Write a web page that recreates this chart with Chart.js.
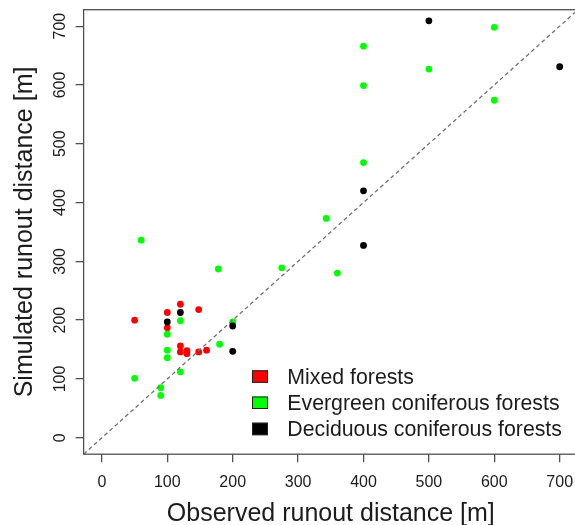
<!DOCTYPE html>
<html>
<head>
<meta charset="utf-8">
<script src="https://cdn.jsdelivr.net/npm/chart.js@4"></script>
<style>
  html, body { margin: 0; padding: 0; background: #fff; overflow: hidden; }
  #wrap { width: 582px; height: 525px; }
</style>
</head>
<body>
<div id="wrap"><canvas id="c" width="582" height="525"></canvas></div>
<script>
// ---- data ----
const seriesNames = ['Mixed forests', 'Evergreen coniferous forests', 'Deciduous coniferous forests'];
const seriesColors = ['#ff0000', '#00ff00', '#000000'];

const mixedObs = [50, 100, 100, 120, 148, 120, 120, 130, 130, 148, 160];
const mixedSim = [200, 213, 187, 227, 218, 156, 146, 148, 143, 146, 149];

const evergreenObs = [400, 400, 500, 600, 600, 400, 343, 360, 60, 178, 275, 120, 100, 100, 100, 50, 120, 180, 200, 90, 90];
const evergreenSim = [666, 599, 627, 698, 574, 468, 373, 280, 336, 287, 289, 199, 176, 149, 136, 101, 112, 159, 197, 85, 72];

const deciduousObs = [120, 100, 200, 200, 500, 700, 400, 400];
const deciduousSim = [213, 197, 190, 147, 709, 631, 420, 327];

const tickValues = [0, 100, 200, 300, 400, 500, 600, 700];
const axisMin = -28, axisMax = 728;
const xTitle = 'Observed runout distance [m]';
const yTitle = 'Simulated runout distance [m]';

const pts = (xs, ys) => xs.map((x, i) => ({ x: x, y: ys[i] }));
const FONT = "'Liberation Sans', Arial, Helvetica, sans-serif";
const TEXT = '#1c1c1c';

const overlay = {
  id: 'overlay',
  afterDraw(chart) {
    const ctx = chart.ctx, a = chart.chartArea;
    const xs = chart.scales.x, ys = chart.scales.y;
    ctx.save();
    // box
    ctx.strokeStyle = '#505050';
    ctx.lineWidth = 1.3;
    ctx.strokeRect(a.left, a.top, a.right - a.left, a.bottom - a.top);
    // x tick labels
    ctx.fillStyle = TEXT;
    ctx.font = '16px ' + FONT;
    ctx.textAlign = 'center';
    ctx.textBaseline = 'alphabetic';
    xs.ticks.forEach(t => {
      ctx.fillText(String(t.value), xs.getPixelForValue(t.value), a.bottom + 32.5);
    });
    // y tick labels (rotated, as in R)
    ys.ticks.forEach(t => {
      ctx.save();
      ctx.translate(a.left - 18.6, ys.getPixelForValue(t.value));
      ctx.rotate(-Math.PI / 2);
      ctx.fillText(String(t.value), 0, 0);
      ctx.restore();
    });
    // axis titles
    ctx.font = '25px ' + FONT;
    ctx.fillText(xTitle, (a.left + a.right) / 2, a.bottom + 66.8);
    ctx.save();
    ctx.translate(a.left - 52, (a.top + a.bottom) / 2);
    ctx.rotate(-Math.PI / 2);
    ctx.fillText(yTitle, 0, 0);
    ctx.restore();
    // legend
    ctx.font = '21.3px ' + FONT;
    ctx.textAlign = 'left';
    const lx = 252, ly = 370.3, rowH = 26.2, bw = 16, bh = 12.5;
    seriesNames.forEach((name, i) => {
      const y = ly + i * rowH;
      ctx.fillStyle = seriesColors[i];
      ctx.fillRect(lx, y, bw, bh);
      ctx.strokeStyle = '#222';
      ctx.lineWidth = 1;
      ctx.strokeRect(lx + 0.5, y + 0.5, bw - 1, bh - 1);
      ctx.fillStyle = TEXT;
      ctx.fillText(name, lx + 35.3, y + 13.5);
    });
    ctx.restore();
  }
};

const scaleCommon = {
  type: 'linear',
  min: axisMin,
  max: axisMax,
  afterBuildTicks: s => { s.ticks = tickValues.map(v => ({ value: v })); },
  ticks: { display: false },
  grid: { display: true, drawOnChartArea: false, drawTicks: true, tickLength: 8, color: '#505050', lineWidth: 1.3 },
  border: { display: false },
  title: { display: false }
};

new Chart(document.getElementById('c'), {
  type: 'scatter',
  data: {
    datasets: [
      {
        type: 'line',
        label: '1:1',
        data: [{ x: axisMin, y: axisMin }, { x: axisMax, y: axisMax }],
        borderColor: '#707070',
        borderWidth: 1.3,
        borderDash: [4, 3],
        pointRadius: 0,
        fill: false
      },
      { label: seriesNames[2], data: pts(deciduousObs, deciduousSim), backgroundColor: seriesColors[2], borderWidth: 0, pointRadius: 3.4 },
      { label: seriesNames[1], data: pts(evergreenObs, evergreenSim), backgroundColor: seriesColors[1], borderWidth: 0, pointRadius: 3.4 },
      { label: seriesNames[0], data: pts(mixedObs, mixedSim), backgroundColor: seriesColors[0], borderWidth: 0, pointRadius: 3.4 }
    ]
  },
  options: {
    responsive: false,
    animation: false,
    devicePixelRatio: 1,
    layout: { padding: { top: 9.7, right: 2.6, left: 0, bottom: 0 } },
    plugins: { legend: { display: false }, tooltip: { enabled: false } },
    scales: {
      x: Object.assign({}, scaleCommon, { position: 'bottom', afterFit: s => { s.height = 70.8; } }),
      y: Object.assign({}, scaleCommon, { position: 'left', afterFit: s => { s.width = 83.6; } })
    }
  },
  plugins: [overlay]
});
</script>
</body>
</html>
